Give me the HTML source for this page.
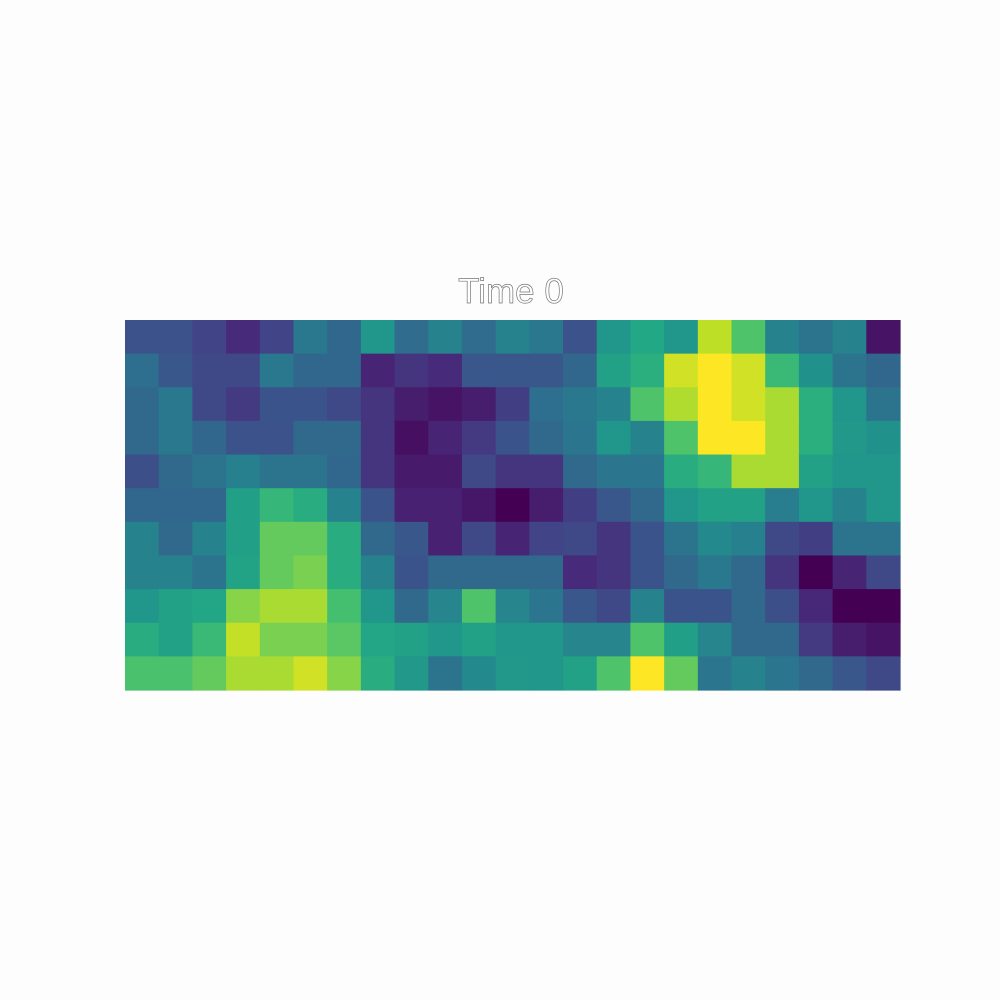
<!DOCTYPE html>
<html><head><meta charset="utf-8"><style>
html,body{margin:0;padding:0;background:#fdfdfd;}
svg{display:block;}
</style></head><body>
<svg id="chart" width="1000" height="1000" viewBox="0 0 1000 1000">
<rect x="0" y="0" width="1000" height="1000" fill="#fdfdfd"/>
<text x="511" y="303" text-anchor="middle" font-family="Liberation Sans, sans-serif" font-size="35" fill="#ffffff" stroke="#777" stroke-width="0.7">Time 0</text>
<g id="cells"></g>
</svg>
<script>
const rowLabels = [0,1,2,3,4,5,6,7,8,9,10];
const colLabels = [0,1,2,3,4,5,6,7,8,9,10,11,12,13,14,15,16,17,18,19,20,21,22];
const row0 = [0.25,0.25,0.2,0.12,0.2,0.4,0.33,0.52,0.35,0.44,0.35,0.44,0.4,0.25,0.52,0.6,0.52,0.9,0.72,0.44,0.38,0.44,0.05];
const row1 = [0.36,0.27,0.22,0.22,0.4,0.33,0.33,0.1,0.15,0.12,0.27,0.27,0.27,0.33,0.57,0.63,0.93,1.0,0.93,0.67,0.5,0.38,0.33];
const row2 = [0.34,0.4,0.22,0.17,0.26,0.26,0.22,0.15,0.08,0.05,0.08,0.18,0.36,0.4,0.44,0.72,0.88,1.0,0.93,0.87,0.63,0.52,0.38];
const row3 = [0.34,0.4,0.33,0.25,0.25,0.34,0.34,0.15,0.04,0.1,0.17,0.26,0.34,0.39,0.52,0.44,0.72,1.0,1.0,0.87,0.63,0.53,0.5];
const row4 = [0.24,0.34,0.38,0.43,0.38,0.38,0.33,0.15,0.07,0.07,0.22,0.15,0.15,0.34,0.39,0.39,0.62,0.66,0.87,0.87,0.57,0.52,0.52];
const row5 = [0.33,0.33,0.33,0.56,0.66,0.62,0.44,0.26,0.09,0.09,0.06,0.0,0.08,0.18,0.27,0.34,0.52,0.57,0.57,0.42,0.52,0.44,0.52];
const row6 = [0.44,0.34,0.44,0.56,0.76,0.76,0.62,0.34,0.27,0.09,0.22,0.1,0.2,0.22,0.15,0.26,0.38,0.47,0.43,0.22,0.18,0.38,0.38];
const row7 = [0.44,0.44,0.38,0.58,0.76,0.8,0.62,0.44,0.26,0.34,0.34,0.34,0.34,0.12,0.15,0.26,0.34,0.4,0.34,0.15,0.0,0.1,0.22];
const row8 = [0.52,0.57,0.59,0.82,0.87,0.87,0.7,0.52,0.34,0.45,0.72,0.45,0.39,0.27,0.22,0.44,0.26,0.26,0.34,0.24,0.11,0.0,0.0];
const row9 = [0.62,0.57,0.67,0.91,0.8,0.8,0.74,0.59,0.57,0.52,0.57,0.52,0.52,0.45,0.45,0.72,0.56,0.45,0.34,0.34,0.17,0.08,0.05];
const row10 = [0.71,0.71,0.76,0.87,0.87,0.93,0.82,0.62,0.53,0.38,0.47,0.53,0.52,0.57,0.72,1.0,0.76,0.39,0.44,0.39,0.34,0.27,0.22];
const values = [row0,row1,row2,row3,row4,row5,row6,row7,row8,row9,row10];

const VIR = ["#440154","#482475","#414487","#355f8d","#2a788e","#21918c","#22a884","#44bf70","#7ad151","#bddf26","#fde725"];
function hex(h){return [parseInt(h.slice(1,3),16),parseInt(h.slice(3,5),16),parseInt(h.slice(5,7),16)];}
function viridis(t){
  t=Math.max(0,Math.min(1,t));
  const p=t*(VIR.length-1), i=Math.min(Math.floor(p),VIR.length-2), f=p-i;
  const a=hex(VIR[i]), b=hex(VIR[i+1]);
  return "rgb("+a.map((v,k)=>Math.round(v+(b[k]-v)*f)).join(",")+")";
}
const X0=125, X1=900, Y0=320, Y1=690;
const cw=(X1-X0)/colLabels.length, ch=(Y1-Y0)/rowLabels.length;
function xScale(c){return X0+c*cw;}
function yScale(r){return Y0+r*ch;}
const g=document.getElementById('cells');
const NS="http://www.w3.org/2000/svg";
rowLabels.forEach((r,ri)=>{
  colLabels.forEach((c,ci)=>{
    const el=document.createElementNS(NS,'rect');
    el.setAttribute('x',xScale(ci));
    el.setAttribute('y',yScale(ri));
    el.setAttribute('width',cw+0.6);
    el.setAttribute('height',ch+0.6);
    el.setAttribute('fill',viridis(values[ri][ci]));
    
    
    g.appendChild(el);
  });
});
</script>
</body></html>
